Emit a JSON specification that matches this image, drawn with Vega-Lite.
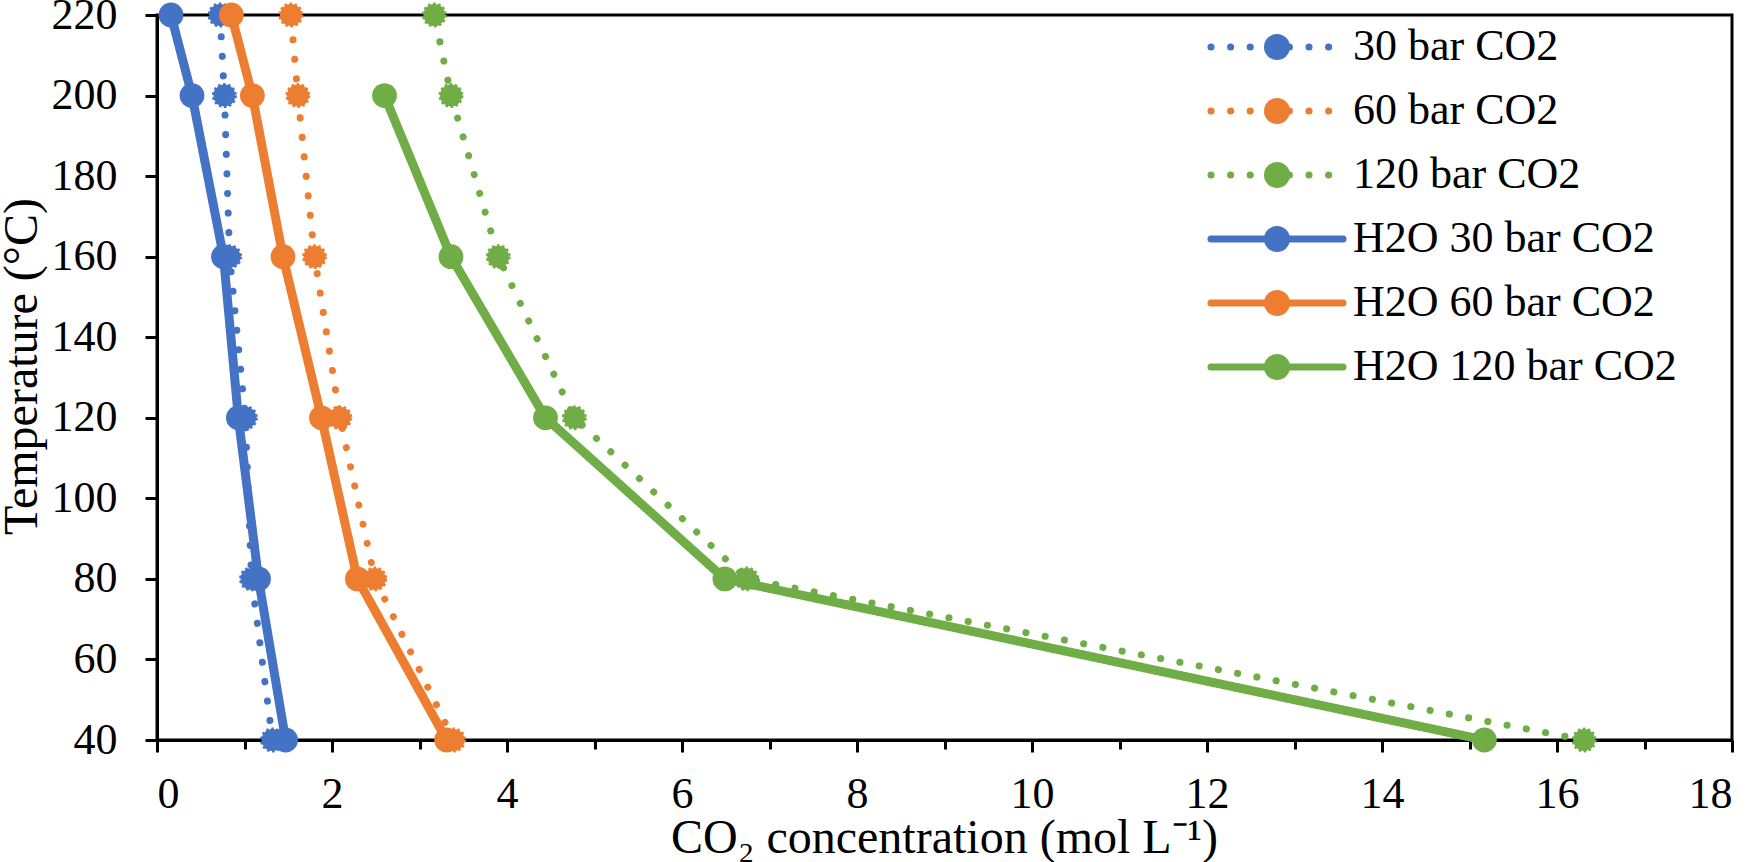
{
  "$schema": "https://vega.github.io/schema/vega-lite/v6.json",
  "description": "CO2 concentration vs temperature, dry CO2 and H2O at 30/60/120 bar",
  "width": 1575,
  "height": 725,
  "autosize": {"type": "none"},
  "padding": {"left": 157, "top": 15, "right": 20, "bottom": 122},
  "background": "white",
  "data": {
    "values": [
      {"series": "30 bar CO2", "temp": 220, "conc": 0.72},
      {"series": "30 bar CO2", "temp": 200, "conc": 0.77},
      {"series": "30 bar CO2", "temp": 160, "conc": 0.83},
      {"series": "30 bar CO2", "temp": 120, "conc": 1.01},
      {"series": "30 bar CO2", "temp": 80, "conc": 1.08},
      {"series": "30 bar CO2", "temp": 40, "conc": 1.32},
      {"series": "60 bar CO2", "temp": 220, "conc": 1.53},
      {"series": "60 bar CO2", "temp": 200, "conc": 1.61},
      {"series": "60 bar CO2", "temp": 160, "conc": 1.80},
      {"series": "60 bar CO2", "temp": 120, "conc": 2.09},
      {"series": "60 bar CO2", "temp": 80, "conc": 2.49},
      {"series": "60 bar CO2", "temp": 40, "conc": 3.39},
      {"series": "120 bar CO2", "temp": 220, "conc": 3.17},
      {"series": "120 bar CO2", "temp": 200, "conc": 3.36},
      {"series": "120 bar CO2", "temp": 160, "conc": 3.90},
      {"series": "120 bar CO2", "temp": 120, "conc": 4.77},
      {"series": "120 bar CO2", "temp": 80, "conc": 6.74},
      {"series": "120 bar CO2", "temp": 40, "conc": 16.31},
      {"series": "H2O 30 bar CO2", "temp": 220, "conc": 0.16},
      {"series": "H2O 30 bar CO2", "temp": 200, "conc": 0.40},
      {"series": "H2O 30 bar CO2", "temp": 160, "conc": 0.76},
      {"series": "H2O 30 bar CO2", "temp": 120, "conc": 0.93},
      {"series": "H2O 30 bar CO2", "temp": 80, "conc": 1.16},
      {"series": "H2O 30 bar CO2", "temp": 40, "conc": 1.47},
      {"series": "H2O 60 bar CO2", "temp": 220, "conc": 0.85},
      {"series": "H2O 60 bar CO2", "temp": 200, "conc": 1.09},
      {"series": "H2O 60 bar CO2", "temp": 160, "conc": 1.44},
      {"series": "H2O 60 bar CO2", "temp": 120, "conc": 1.88},
      {"series": "H2O 60 bar CO2", "temp": 80, "conc": 2.29},
      {"series": "H2O 60 bar CO2", "temp": 40, "conc": 3.31},
      {"series": "H2O 120 bar CO2", "temp": 200, "conc": 2.60},
      {"series": "H2O 120 bar CO2", "temp": 160, "conc": 3.36},
      {"series": "H2O 120 bar CO2", "temp": 120, "conc": 4.44},
      {"series": "H2O 120 bar CO2", "temp": 80, "conc": 6.49},
      {"series": "H2O 120 bar CO2", "temp": 40, "conc": 15.17}
    ]
  },
  "encoding": {
    "x": {
      "field": "conc",
      "type": "quantitative",
      "title": "CO₂ concentration (mol L⁻¹)",
      "scale": {"domain": [0, 18], "nice": false, "zero": false},
      "axis": {
        "values": [0, 1, 2, 3, 4, 5, 6, 7, 8, 9, 10, 11, 12, 13, 14, 15, 16, 17, 18],
        "labelExpr": "datum.value % 2 === 0 ? datum.label : ''",
        "tickSize": {"condition": {"test": "datum.value % 2 === 0", "value": 12}, "value": 9},
        "labelPadding": 20,
        "titleBaseline": "alphabetic",
        "titleX": 787,
        "titleY": 112
      }
    },
    "y": {
      "field": "temp",
      "type": "quantitative",
      "title": "Temperature (°C)",
      "scale": {"domain": [40, 220], "nice": false, "zero": false},
      "axis": {
        "values": [40, 60, 80, 100, 120, 140, 160, 180, 200, 220],
        "labelPadding": 28,
        "titleBaseline": "alphabetic",
        "titleX": -121,
        "titleY": 351
      }
    },
    "order": {"field": "temp", "type": "quantitative"}
  },
  "layer": [
    {
      "transform": [{"filter": "indexof(datum.series, 'H2O') < 0"}],
      "mark": {"type": "line", "strokeWidth": 7, "strokeCap": "round"},
      "encoding": {
        "color": {
          "field": "series",
          "type": "nominal",
          "scale": {
            "domain": ["30 bar CO2", "60 bar CO2", "120 bar CO2", "H2O 30 bar CO2", "H2O 60 bar CO2", "H2O 120 bar CO2"],
            "range": ["#4472C4", "#ED7D31", "#70AD47", "#4472C4", "#ED7D31", "#70AD47"]
          },
          "legend": {
            "title": null,
            "symbolType": "M-5.08,0H5.08",
            "encode": {"symbols": {"update": {"strokeCap": {"value": "round"}}}}
          }
        },
        "strokeDash": {
          "field": "series",
          "type": "nominal",
          "scale": {
            "domain": ["30 bar CO2", "60 bar CO2", "120 bar CO2", "H2O 30 bar CO2", "H2O 60 bar CO2", "H2O 120 bar CO2"],
            "range": [[0.1, 19.5], [0.1, 19.5], [0.1, 19.5], [1, 0], [1, 0], [1, 0]]
          },
          "legend": {"title": null, "symbolType": "M-5.08,0H5.08"}
        }
      }
    },
    {
      "transform": [{"filter": "indexof(datum.series, 'H2O') < 0"}],
      "mark": {"type": "point", "shape": "circle", "filled": true, "opacity": 1, "size": 480, "strokeWidth": 3, "strokeDash": [2.5, 2.5]},
      "encoding": {
        "fill": {
          "field": "series",
          "type": "nominal",
          "scale": {
            "domain": ["30 bar CO2", "60 bar CO2", "120 bar CO2", "H2O 30 bar CO2", "H2O 60 bar CO2", "H2O 120 bar CO2", "none"],
            "range": ["#4472C4", "#ED7D31", "#70AD47", "#4472C4", "#ED7D31", "#70AD47", "#ffffff"]
          },
          "legend": {
            "title": null,
            "values": ["30 bar CO2", "60 bar CO2", "120 bar CO2", "H2O 30 bar CO2", "H2O 60 bar CO2", "H2O 120 bar CO2"],
            "symbolType": "circle",
            "symbolStrokeWidth": 0,
            "labelColor": "transparent"
          }
        },
        "stroke": {
          "field": "series",
          "type": "nominal",
          "scale": {
            "domain": ["30 bar CO2", "60 bar CO2", "120 bar CO2", "H2O 30 bar CO2", "H2O 60 bar CO2", "H2O 120 bar CO2"],
            "range": ["#4472C4", "#ED7D31", "#70AD47", "#4472C4", "#ED7D31", "#70AD47"]
          },
          "legend": null
        }
      }
    },
    {
      "transform": [{"filter": "indexof(datum.series, 'H2O') >= 0"}],
      "mark": {"type": "line", "strokeWidth": 9, "strokeCap": "round"},
      "encoding": {
        "color": {"field": "series", "type": "nominal"},
        "strokeDash": {"field": "series", "type": "nominal"}
      }
    },
    {
      "transform": [{"filter": "indexof(datum.series, 'H2O') >= 0"}],
      "mark": {"type": "point", "shape": "circle", "filled": true, "opacity": 1, "size": 615},
      "encoding": {
        "fill": {"field": "series", "type": "nominal"}
      }
    }
  ],
  "config": {
    "font": "Liberation Serif",
    "view": {"stroke": "black", "strokeWidth": 3},
    "axis": {
      "grid": false,
      "domainColor": "black",
      "domainWidth": 3,
      "tickColor": "black",
      "tickWidth": 3,
      "tickSize": 12,
      "labelFont": "Liberation Serif",
      "labelFontSize": 44,
      "labelColor": "black",
      "titleFont": "Liberation Serif",
      "titleFontSize": 48,
      "titleFontWeight": "normal",
      "titleColor": "black"
    },
    "legend": {
      "orient": "none",
      "legendX": 1098,
      "legendY": 10,
      "padding": 0,
      "symbolSize": 676,
      "symbolStrokeWidth": 7,
      "labelOffset": 54,
      "labelFont": "Liberation Serif",
      "labelFontSize": 44,
      "labelColor": "black",
      "labelLimit": 500,
      "rowPadding": 20
    }
  }
}
